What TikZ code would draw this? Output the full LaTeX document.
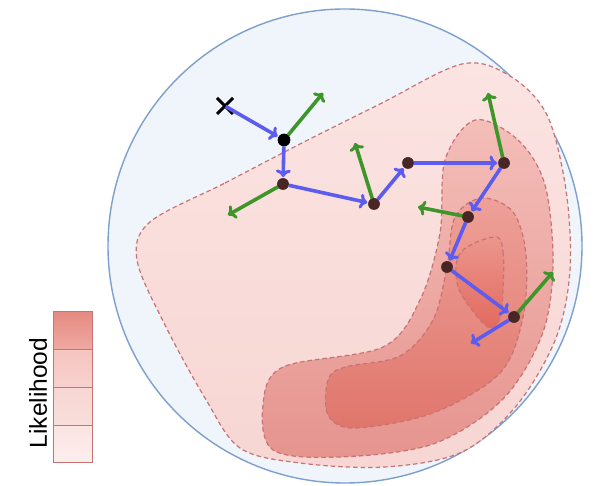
\documentclass[tikz,border=0pt]{standalone}
\usepackage{fontspec}
\setmainfont{Liberation Sans}
\usetikzlibrary{arrows.meta}
\definecolor{circfill}{RGB}{239,245,251}
\definecolor{circdraw}{RGB}{125,160,205}
\definecolor{regline}{RGB}{200,115,115}
\definecolor{rA1}{RGB}{251,228,226}
\definecolor{rA2}{RGB}{247,214,211}
\definecolor{rB1}{RGB}{244,190,185}
\definecolor{rB2}{RGB}{230,148,142}
\definecolor{rC1}{RGB}{238,160,152}
\definecolor{rC2}{RGB}{224,118,108}
\definecolor{rD1}{RGB}{236,150,140}
\definecolor{rD2}{RGB}{226,105,95}
\definecolor{bluearr}{RGB}{92,92,238}
\definecolor{greenarr}{RGB}{62,150,42}
\definecolor{dotcol}{RGB}{72,38,38}
\tikzset{
  region/.style={draw=regline, line width=1.2pt, dash pattern=on 4.5pt off 3pt},
  blue arrow/.style={draw=bluearr, line width=3.6pt, -{To[length=7.5pt,width=15pt,line width=3pt]}, shorten >=1pt},
  green arrow/.style={draw=greenarr, line width=3.6pt, -{To[length=7.5pt,width=15pt,line width=3pt]}},
  pt/.style={circle, fill=dotcol, inner sep=0pt, minimum size=11.5pt},
  cell/.style={draw=regline, line width=1pt}
}
\begin{document}
\begin{tikzpicture}[x=1pt,y=-1pt]
\useasboundingbox (0,0) rectangle (598,486);
% sphere
\draw[fill=circfill, draw=circdraw, line width=1.4pt] (345,246) circle[radius=237];
% outer region
\path[region, top color=rA1, bottom color=rA2]
  plot[smooth cycle, tension=0.55] coordinates {
  (150,222) (225,183) (300,144) (380,104) (462,64) (510,76) (547,115) (566,190) (570,270)
  (556,338) (517,405) (462,452) (385,467) (300,463) (240,448) (205,398)
  (165,325) (137,260)};
% middle region
\path[region, top color=rB1, bottom color=rB2]
  plot[smooth cycle, tension=0.55] coordinates {
  (475,120) (518,140) (545,185) (553,265) (542,335) (502,400) (433,444)
  (340,457) (273,450) (263,405) (283,367) (383,347) (420,300) (440,233) (445,160)};
% third region
\path[region, top color=rC1, bottom color=rC2]
  plot[smooth cycle, tension=0.55] coordinates {
  (482,198) (513,212) (526,255) (523,317) (500,373) (433,413) (355,428)
  (328,415) (328,380) (345,367) (400,356) (433,320) (447,267) (455,217)};
% inner region
\path[region, top color=rD1, bottom color=rD2]
  plot[smooth cycle, tension=0.6] coordinates {
  (495,237) (503,252) (503,290) (500,318) (490,328) (472,310) (457,283) (461,252)};
% start mark
\node[inner sep=0pt] (s) at (225,106) {};
\draw[line width=3pt, black] (217,98) -- (233,114) (217,114) -- (233,98);
% points
\node[pt, fill=black, minimum size=12.5pt] (p1) at (284,140) {};
\node[pt] (p2) at (283,184) {};
\node[pt] (p3) at (374,204) {};
\node[pt] (p4) at (408,163) {};
\node[pt] (p5) at (504,163) {};
\node[pt] (p6) at (468,217) {};
\node[pt] (p7) at (447,267) {};
\node[pt] (p8) at (514,317) {};
% momentum ends
\coordinate (g1) at (323,93);
\coordinate (g2) at (228,215);
\coordinate (g3) at (355,143);
\coordinate (g5) at (488,93);
\coordinate (g6) at (418,207);
\coordinate (g8) at (553,272);
\coordinate (b9) at (470,344);
% green arrows
\draw[green arrow] (p1.center) -- (g1);
\draw[green arrow] (p2.center) -- (g2);
\draw[green arrow] (p3.center) -- (g3);
\draw[green arrow] (p5.center) -- (g5);
\draw[green arrow] (p6.center) -- (g6);
\draw[green arrow] (p8.center) -- (g8);
% blue arrows
\draw[blue arrow] (s) -- (p1);
\draw[blue arrow] (p1) -- (p2);
\draw[blue arrow] (p2) -- (p3);
\draw[blue arrow] (p3) -- (p4);
\draw[blue arrow] (p4) -- (p5);
\draw[blue arrow] (p5) -- (p6);
\draw[blue arrow] (p6) -- (p7);
\draw[blue arrow] (p7) -- (p8);
\draw[blue arrow] (p8) -- (b9);
% redraw dots on top
\node[pt, fill=black, minimum size=12.5pt] at (p1) {};
\foreach \p in {p2,p3,p4,p5,p6,p7,p8} \node[pt] at (\p) {};
% legend
\path[cell, top color=rC2!85, bottom color=rC1!90] (53,312) rectangle (92,350);
\path[cell, top color=rB1!90, bottom color=rB1!70!white] (53,350) rectangle (92,388);
\path[cell, top color=rA2, bottom color=rA2!80!white] (53,388) rectangle (92,426);
\path[cell, top color=rA1, bottom color=rA1!60!white] (53,426) rectangle (92,463);
\node[rotate=90, font=\fontsize{24.5}{28}\selectfont, inner sep=0pt] (lab) at (38,393) {Likelihood};
\end{tikzpicture}
\end{document}
